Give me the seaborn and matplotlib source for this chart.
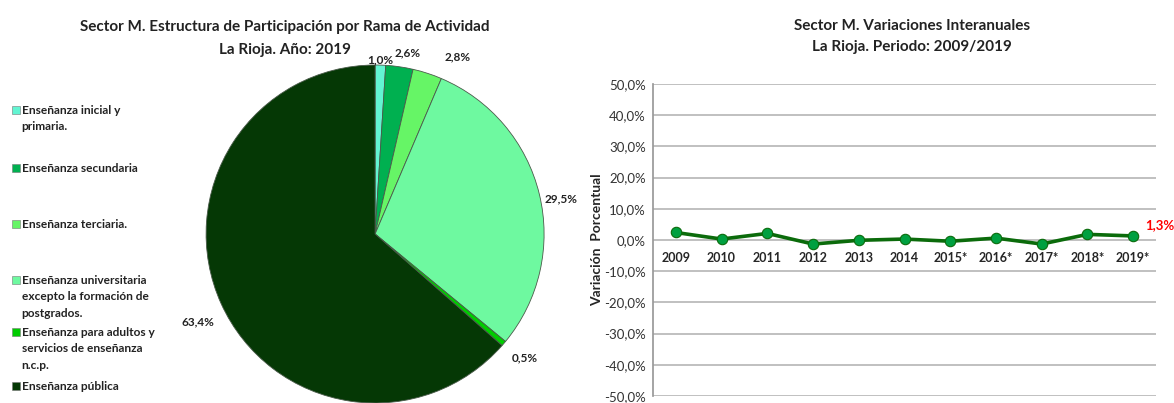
import numpy as np
import pandas as pd
import matplotlib
matplotlib.use("Agg")
import matplotlib.pyplot as plt
import matplotlib.patches as mpatches
from matplotlib.ticker import FuncFormatter, MultipleLocator
import seaborn as sns

# ── datos ──
ramas = [
    "Enseñanza inicial y\nprimaria.",
    "Enseñanza secundaria",
    "Enseñanza terciaria.",
    "Enseñanza universitaria\nexcepto la formación de\npostgrados.",
    "Enseñanza para adultos y\nservicios de enseñanza\nn.c.p.",
    "Enseñanza pública",
]
participacion = [1.0, 2.6, 2.8, 29.5, 0.5, 63.4]
colores_pie = ["#62F5D2", "#00B050", "#66F566", "#6EF9A0", "#00CC00", "#053805"]

anios = ["2009", "2010", "2011", "2012", "2013", "2014",
         "2015*", "2016*", "2017*", "2018*", "2019*"]
variacion = [2.4, 0.3, 2.1, -1.3, -0.1, 0.3, -0.4, 0.6, -1.3, 1.8, 1.3]

# ── estilo ──
sns.set_theme(style="white")
plt.rcParams["font.family"] = ["Lato", "DejaVu Sans"]
plt.rcParams["text.color"] = "#222222"

fig = plt.figure(figsize=(11.74, 4.03), dpi=100)

def pct(v):
    return f"{v:.1f}%".replace(".", ",")

# ── tarta ──
ax_pie = fig.add_axes([0.1755, 0.0, 0.288, 0.8387])
wedges, _ = ax_pie.pie(
    participacion, colors=colores_pie, startangle=90, counterclock=False,
    wedgeprops=dict(edgecolor="#4a5a4a", linewidth=0.6),
)
ax_pie.set_aspect("equal")
ax_pie.set_xlim(-1, 1)
ax_pie.set_ylim(-1, 1)

# distancia radial y desplazamiento angular de cada etiqueta
dist_lbl = [1.03, 1.09, 1.16, 1.12, 1.15, 1.17]
giro_lbl = [0, -2, -7, -3, 1, 2]
for w, v, d, g in zip(wedges, participacion, dist_lbl, giro_lbl):
    ang = np.deg2rad((w.theta1 + w.theta2) / 2 + g)
    ax_pie.text(d * np.cos(ang), d * np.sin(ang), pct(v), ha="center", va="center",
                fontsize=8.5, fontweight="bold", clip_on=False)

fig.text(0.2428, 0.932, "Sector M. Estructura de Participación por Rama de Actividad",
         ha="center", va="center", fontsize=11, fontweight="bold")
fig.text(0.2428, 0.876, "La Rioja. Año: 2019", ha="center", va="center",
         fontsize=11, fontweight="bold")

# leyenda manual
leyenda_y = [110, 168, 224, 280, 332, 386]
for lab, col, yp in zip(ramas, colores_pie, leyenda_y):
    yf = 1 - yp / 403
    fig.patches.append(mpatches.Rectangle((0.0102, yf - 0.0095), 0.0068, 0.019,
                                          transform=fig.transFigure, facecolor=col,
                                          edgecolor="#777777", linewidth=0.4))
    fig.text(0.0185, yf + 0.013, lab, ha="left", va="top", fontsize=8.6,
             fontweight="bold", linespacing=1.6)

# ── línea ──
ax = fig.add_axes([0.5562, 0.0174, 0.4285, 0.7742])
df = pd.DataFrame({"anio": anios, "variacion": variacion})
sns.lineplot(data=df, x="anio", y="variacion", ax=ax, color="#0B6B0B", lw=2.6,
             marker="o", markersize=7.5, markerfacecolor="#00A040",
             markeredgecolor="#0B6B0B", markeredgewidth=0.8, sort=False)

ax.set_ylim(-50, 50)
ax.set_xlim(-0.5, len(anios) - 0.5)
ax.yaxis.set_major_locator(MultipleLocator(10))
ax.yaxis.set_major_formatter(FuncFormatter(lambda v, p: pct(v)))
ax.grid(axis="y", color="#BBBBBB", lw=1.3)
ax.grid(axis="x", visible=False)
for s in ["top", "right"]:
    ax.spines[s].set_visible(False)
ax.spines["left"].set_color("#999999")
ax.spines["bottom"].set_position(("data", 0))
ax.spines["bottom"].set_visible(False)
ax.tick_params(axis="x", length=0, pad=9, labelsize=9)
ax.tick_params(axis="y", length=0, pad=5, labelsize=9.5, labelcolor="#333333")
for t in ax.get_xticklabels():
    t.set_fontweight("bold")
ax.set_xlabel("")
ax.set_ylabel("Variación  Porcentual", fontsize=10, fontweight="bold", labelpad=1)

ax.annotate(pct(variacion[-1]), (len(anios) - 1, variacion[-1]), xytext=(9, 8),
            textcoords="offset points", color="#FF0000", fontsize=9.5,
            fontweight="bold", ha="left", va="center", annotation_clip=False)

fig.text(0.7768, 0.935, "Sector M. Variaciones Interanuales", ha="center",
         va="center", fontsize=11, fontweight="bold")
fig.text(0.7768, 0.883, "La Rioja. Periodo: 2009/2019", ha="center", va="center",
         fontsize=11, fontweight="bold")

fig.savefig("out.png", dpi=100, facecolor="white")
